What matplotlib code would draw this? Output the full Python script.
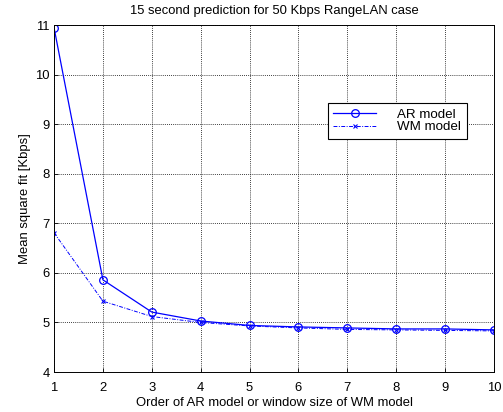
import matplotlib.pyplot as plt

plt.rcParams['font.family'] = ['Liberation Sans', 'DejaVu Sans']

orders = [1, 2, 3, 4, 5, 6, 7, 8, 9, 10]
ar_fit = [10.95, 5.86, 5.21, 5.03, 4.94, 4.91, 4.89, 4.87, 4.87, 4.85]
wm_fit = [6.81, 5.43, 5.12, 5.00, 4.93, 4.89, 4.86, 4.85, 4.84, 4.83]

fig = plt.figure(figsize=(5.03, 4.12), dpi=100)
ax = fig.add_axes([0.1074, 0.097, 0.8748, 0.842])

ax.plot(orders, ar_fit, '-o', color='blue', lw=0.9, markersize=5.5,
        markerfacecolor='none', markeredgewidth=0.9, label='AR model')
ax.plot(orders, wm_fit, '-.x', color='blue', lw=0.7, markersize=3.5,
        markeredgewidth=0.8, dashes=(4, 1.5, 1, 1.5), label='WM model')

ax.set_xlim(1, 10)
ax.set_ylim(4, 11)
ax.set_xticks(orders)
ax.set_yticks(range(4, 12))
ax.grid(True, color='black', linestyle=(0, (1, 1.5)), linewidth=0.6)
ax.tick_params(direction='in', labelsize=9.4, length=3, width=0.6)
ax.tick_params(axis='x', pad=7)
ax.tick_params(axis='y', pad=3)
for s in ax.spines.values():
    s.set_linewidth(0.7)

ax.set_title('15 second prediction for 50 Kbps RangeLAN case', fontsize=9.4, pad=8)
ax.set_xlabel('Order of AR model or window size of WM model', fontsize=9.4, labelpad=2.5)
ax.set_ylabel('Mean square fit [Kbps]', fontsize=9.4, labelpad=3)

leg = ax.legend(loc='upper left', bbox_to_anchor=(0.623, 0.775), fontsize=9.6,
                fancybox=False, edgecolor='black', framealpha=1, handlelength=3.2,
                borderpad=0.4, labelspacing=0.0, handletextpad=1.6, borderaxespad=0)
leg.get_frame().set_linewidth(0.8)

fig.savefig('out.png', dpi=100)
